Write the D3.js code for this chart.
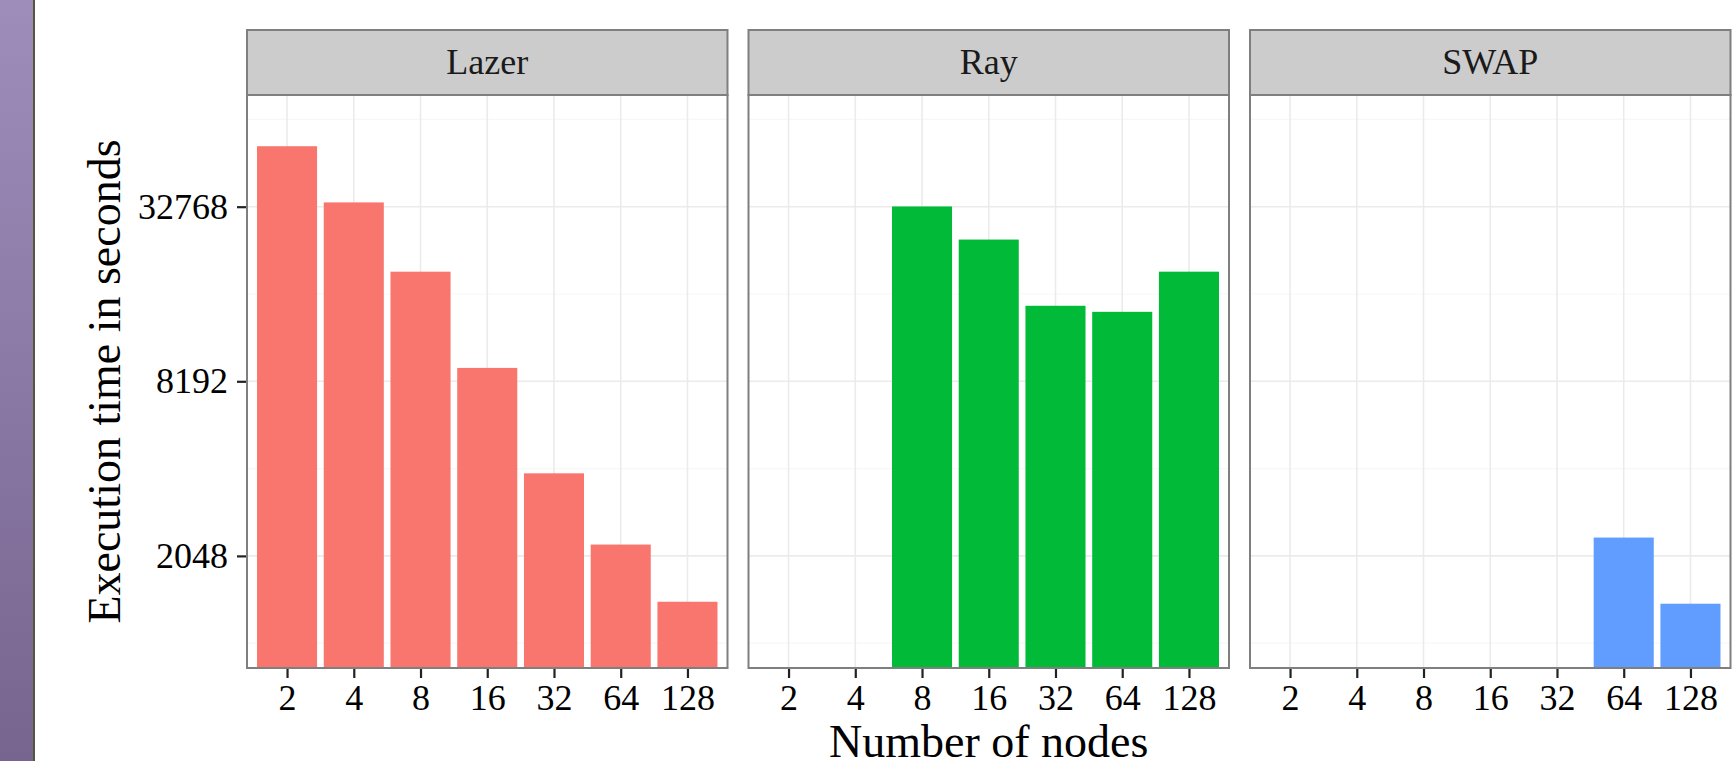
<!DOCTYPE html>
<html>
<head>
<meta charset="utf-8">
<script src="https://cdn.jsdelivr.net/npm/d3@7"></script>
<style>
  body { margin: 0; background: #fff; }
  text { font-family: "Liberation Serif", "Times New Roman", serif; }
</style>
</head>
<body>
<div id="chart"></div>
<script>
// data (seconds)
var nodes = ["2", "4", "8", "16", "32", "64", "128"];
var frameworks = ["Lazer", "Ray", "SWAP"];
var lazerTime = [52960, 33900, 19560, 9110, 3945, 2241, 1423];
var rayTime   = [null, null, 32830, 25240, 14920, 14220, 19560];
var swapTime  = [null, null, null, null, null, 2369, 1401];
var yTicks = [2048, 8192, 32768];
var yMinor = [1024, 4096, 16384, 65536];

var series = [lazerTime, rayTime, swapTime];
var colors = ["#F8766D", "#00BA38", "#619CFF"];

var W = 1734, H = 761;
var margin = {top: 30, right: 3.5, left: 247};
var stripH = 65,
    gap = 21,
    panelW = (W - margin.left - margin.right - 2 * gap) / 3,
    panelTop = margin.top + stripH,
    panelBottom = 668,
    panelH = panelBottom - panelTop;

var svg = d3.select("#chart").append("svg")
    .attr("width", W)
    .attr("height", H);

// purple side band at the left edge
var grad = svg.append("defs").append("linearGradient")
    .attr("id", "band").attr("x1", 0).attr("y1", 0).attr("x2", 0).attr("y2", 1);
grad.append("stop").attr("offset", "0%").attr("stop-color", "#9e8cbb");
grad.append("stop").attr("offset", "100%").attr("stop-color", "#77658f");
svg.append("rect").attr("x", 0).attr("y", 0).attr("width", 33).attr("height", H)
    .attr("fill", "url(#band)");
svg.append("line").attr("x1", 34).attr("x2", 34).attr("y1", 0).attr("y2", H)
    .attr("stroke", "#55573b").attr("stroke-width", 2);

var x = d3.scalePoint().domain(nodes).range([0, panelW]).padding(0.6);
var barW = x.step() * 0.9;
var y = d3.scaleLog().base(2).domain([841, 79540]).range([panelH, 0]);

frameworks.forEach(function(name, i) {
    var px = margin.left + i * (panelW + gap);
    var g = svg.append("g").attr("transform", "translate(" + px + "," + panelTop + ")");

    // strip
    svg.append("rect")
        .attr("x", px).attr("y", margin.top)
        .attr("width", panelW).attr("height", stripH)
        .attr("fill", "#cccccc").attr("stroke", "#7f7f7f").attr("stroke-width", 2);
    svg.append("text")
        .attr("x", px + panelW / 2).attr("y", 74)
        .attr("text-anchor", "middle")
        .attr("font-size", 36).attr("fill", "#1a1a1a")
        .text(name);

    // grid
    g.selectAll(".minor").data(yMinor).enter().append("line")
        .attr("x1", 0).attr("x2", panelW)
        .attr("y1", y).attr("y2", y)
        .attr("stroke", "#f7f7f7").attr("stroke-width", 1.2);
    g.selectAll(".major").data(yTicks).enter().append("line")
        .attr("x1", 0).attr("x2", panelW)
        .attr("y1", y).attr("y2", y)
        .attr("stroke", "#ebebeb").attr("stroke-width", 1.6);
    g.selectAll(".vgrid").data(nodes).enter().append("line")
        .attr("x1", x).attr("x2", x)
        .attr("y1", 0).attr("y2", panelH)
        .attr("stroke", "#ebebeb").attr("stroke-width", 1.6);

    // bars
    var vals = series[i];
    g.selectAll(".bar").data(nodes.filter(function(d, j) { return vals[j] != null; }))
        .enter().append("rect")
        .attr("x", function(d) { return x(d) - barW / 2; })
        .attr("width", barW)
        .attr("y", function(d) { return y(vals[nodes.indexOf(d)]); })
        .attr("height", function(d) { return panelH - y(vals[nodes.indexOf(d)]); })
        .attr("fill", colors[i]);

    // border
    g.append("rect").attr("width", panelW).attr("height", panelH)
        .attr("fill", "none").attr("stroke", "#7f7f7f").attr("stroke-width", 2);

    // x axis
    var xa = g.append("g")
        .attr("transform", "translate(0," + (panelH + 1) + ")")
        .call(d3.axisBottom(x).tickSize(9).tickPadding(6));
    xa.select(".domain").remove();
    xa.selectAll("line").attr("stroke", "#222").attr("stroke-width", 2.2);
    xa.selectAll("text").attr("font-size", 36).attr("fill", "#000")
        .style("font-family", "Liberation Serif, serif");

    if (i == 0) {
        var ya = g.append("g")
            .attr("transform", "translate(-1,0)")
            .call(d3.axisLeft(y).tickValues(yTicks).tickFormat(d3.format("d"))
                .tickSize(9).tickPadding(9));
        ya.select(".domain").remove();
        ya.selectAll("line").attr("stroke", "#222").attr("stroke-width", 2.2);
        ya.selectAll("text").attr("font-size", 36).attr("fill", "#000")
            .style("font-family", "Liberation Serif, serif");
    }
});

// axis titles
svg.append("text")
    .attr("x", margin.left + (W - margin.left - margin.right) / 2)
    .attr("y", 757)
    .attr("text-anchor", "middle")
    .attr("font-size", 46)
    .text("Number of nodes");

svg.append("text")
    .attr("transform", "translate(120," + (panelTop + panelH / 2) + ") rotate(-90)")
    .attr("text-anchor", "middle")
    .attr("font-size", 46)
    .text("Execution time in seconds");
</script>
</body>
</html>
